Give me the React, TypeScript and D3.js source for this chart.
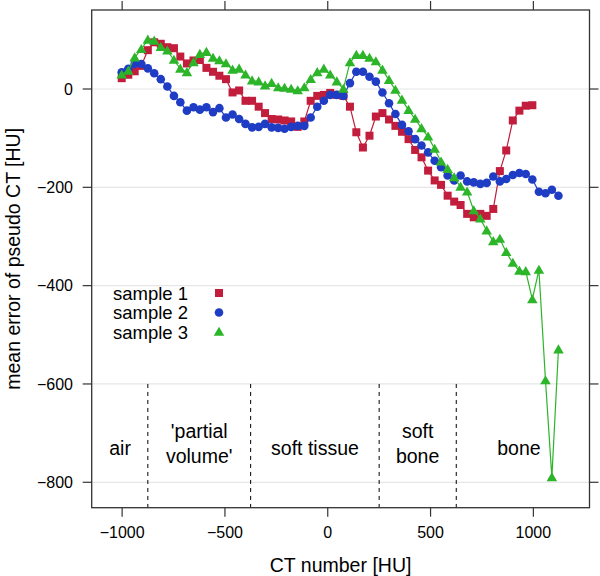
import React from "react";
import * as d3 from "d3";

const ctNumber = [
  -1002, -970, -939, -907, -875, -844, -812, -780, -748, -717,
  -685, -653, -622, -590, -558, -527, -495, -463, -431, -400,
  -368, -336, -305, -273, -241, -210, -178, -146, -114, -83,
  -51, -19, 12, 44, 76, 108, 139, 171, 203, 234,
  266, 298, 329, 361, 393, 425, 456, 488, 520, 551,
  583, 615, 646, 678, 710, 742, 773, 805, 837, 868,
  900, 932, 963, 995, 1027, 1059, 1090, 1122,
];

const sample1 = [
  22, 29, 36, 47, 79, 95, 92, 85, 83, 66,
  52, 58, 59, 43, 35, 27, 20, -7, -3, -24,
  -24, -36, -49, -61, -62, -64, -66, -77, -66, -24,
  -14, -12, -8, -12, -14, -36, -88, -119, -95, -56,
  -49, -62, -75, -87, -102, -124, -139, -166, -186, -195,
  -217, -229, -236, -254, -261, -254, -258, -244, -167, -125,
  -64, -44, -34, -33,
];

const sample2 = [
  34, 41, 51, 51, 42, 32, 20, 5, -14, -27,
  -44, -37, -42, -37, -47, -39, -58, -52, -61, -71,
  -78, -77, -71, -78, -79, -81, -77, -75, -75, -58,
  -36, -24, -12, -12, -14, 12, 35, 35, 25, 15,
  -7, -29, -51, -73, -86, -102, -115, -129, -146, -159,
  -176, -186, -176, -188, -190, -193, -191, -178, -188, -183,
  -175, -171, -173, -184, -209, -212, -205, -217,
];

const sample3 = [
  29, 37, 64, 81, 100, 98, 85, 78, 59, 41,
  34, 54, 71, 75, 63, 58, 52, 39, 41, 29,
  17, 15, 7, 12, 3, 2, 0, -3, 3, 20,
  34, 41, 29, 15, 0, 54, 69, 69, 63, 56,
  39, 18, -2, -22, -43, -61, -80, -97, -122, -148,
  -163, -180, -199, -209, -247, -264, -288, -310, -305, -332,
  -354, -370, -371, -428, -368, -593, -790, -530,
];

const seriesNames = ["sample 1", "sample 2", "sample 3"];
const seriesColors = ["#c21d3c", "#1f3cc4", "#2db52a"];
const xTicks = [-1000, -500, 0, 500, 1000];
const yTicks = [0, -200, -400, -600, -800];
const regionBounds = [-875, -375, 250, 625];
const regionLabels = [["air"], ["'partial", "volume'"], ["soft tissue"], ["soft", "bone"], ["bone"]];
const regionLabelX = [-1010, -625, -62, 437, 930];

const FONT = "'Liberation Sans', Arial, Helvetica, sans-serif";

function fmt(v: number) {
  return v < 0 ? "\u2212" + Math.abs(v) : String(v);
}

export default function App() {
  const left = 91.7, right = 589.5, top = 10, bottom = 507.7;
  const x = d3.scaleLinear().domain([-1148, 1273]).range([left, right]);
  const y = d3.scaleLinear().domain([160.7, -851.7]).range([top, bottom]);

  const all = [sample1, sample2, sample3];
  const line = (vals: number[]) =>
    d3.line<number>().x((_, i) => x(ctNumber[i])).y((d) => y(d))(vals) || "";

  const symbol = (k: number, cx: number, cy: number, color: string, key: string) => {
    if (k === 0) return <rect key={key} x={cx - 4} y={cy - 4} width={8} height={8} fill={color} />;
    if (k === 1) return <circle key={key} cx={cx} cy={cy} r={4.3} fill={color} />;
    const p = d3.symbol().type(d3.symbolTriangle).size(48)();
    return <path key={key} d={p || ""} transform={`translate(${cx},${cy + 0.8})`} fill={color} />;
  };

  const tickLen = 9;
  const legendY = [293, 312.5, 332];

  return (
    <svg width={600} height={576} style={{ position: "absolute", left: 0, top: 0, background: "#fff" }} fontFamily={FONT}>
      <rect x={0} y={0} width={600} height={576} fill="#fff" />
      {yTicks.map((t) => (
        <line key={"g" + t} x1={left} x2={right} y1={y(t)} y2={y(t)} stroke="#e6e6e6" strokeWidth={1.2} />
      ))}
      {regionBounds.map((b) => (
        <line key={"r" + b} x1={x(b)} x2={x(b)} y1={y(-600)} y2={bottom} stroke="#000" strokeWidth={1} strokeDasharray="4,4" />
      ))}
      {regionLabels.map((lines, i) =>
        lines.map((s, j) => (
          <text
            key={"rl" + i + j}
            x={x(regionLabelX[i])}
            y={lines.length === 1 ? 455 : 438 + j * 25}
            textAnchor="middle"
            fontSize={19.5}
            fill="#000"
          >
            {s}
          </text>
        ))
      )}
      {all.map((vals, k) => (
        <g key={"s" + k}>
          <path d={line(vals)} fill="none" stroke={seriesColors[k]} strokeWidth={1.2} />
          {vals.map((v, i) => symbol(k, x(ctNumber[i]), y(v), seriesColors[k], "p" + k + "-" + i))}
        </g>
      ))}
      <rect x={left} y={top} width={right - left} height={bottom - top} fill="none" stroke="#333" strokeWidth={1.3} />
      {xTicks.map((t) => (
        <g key={"xt" + t}>
          <line x1={x(t)} x2={x(t)} y1={bottom} y2={bottom + tickLen} stroke="#333" strokeWidth={1.2} />
          <line x1={x(t)} x2={x(t)} y1={top} y2={top - tickLen} stroke="#333" strokeWidth={1.2} />
          <text x={x(t)} y={538} textAnchor="middle" fontSize={16}>{fmt(t)}</text>
        </g>
      ))}
      {yTicks.map((t) => (
        <g key={"yt" + t}>
          <line x1={left} x2={left - tickLen} y1={y(t)} y2={y(t)} stroke="#333" strokeWidth={1.2} />
          <line x1={right} x2={right + tickLen} y1={y(t)} y2={y(t)} stroke="#333" strokeWidth={1.2} />
          <text x={73} y={y(t) + 5.7} textAnchor="end" fontSize={16}>{fmt(t)}</text>
        </g>
      ))}
      <text x={(left + right) / 2} y={572} textAnchor="middle" fontSize={19.5}>CT number [HU]</text>
      <text transform={`translate(20,${(top + bottom) / 2}) rotate(-90)`} textAnchor="middle" fontSize={19.5}>
        mean error of pseudo CT [HU]
      </text>
      {seriesNames.map((n, k) => (
        <g key={"lg" + k}>
          <text x={113} y={legendY[k] + 6.5} fontSize={18.5}>{n}</text>
          {symbol(k, 219, legendY[k], seriesColors[k], "ls" + k)}
        </g>
      ))}
    </svg>
  );
}
